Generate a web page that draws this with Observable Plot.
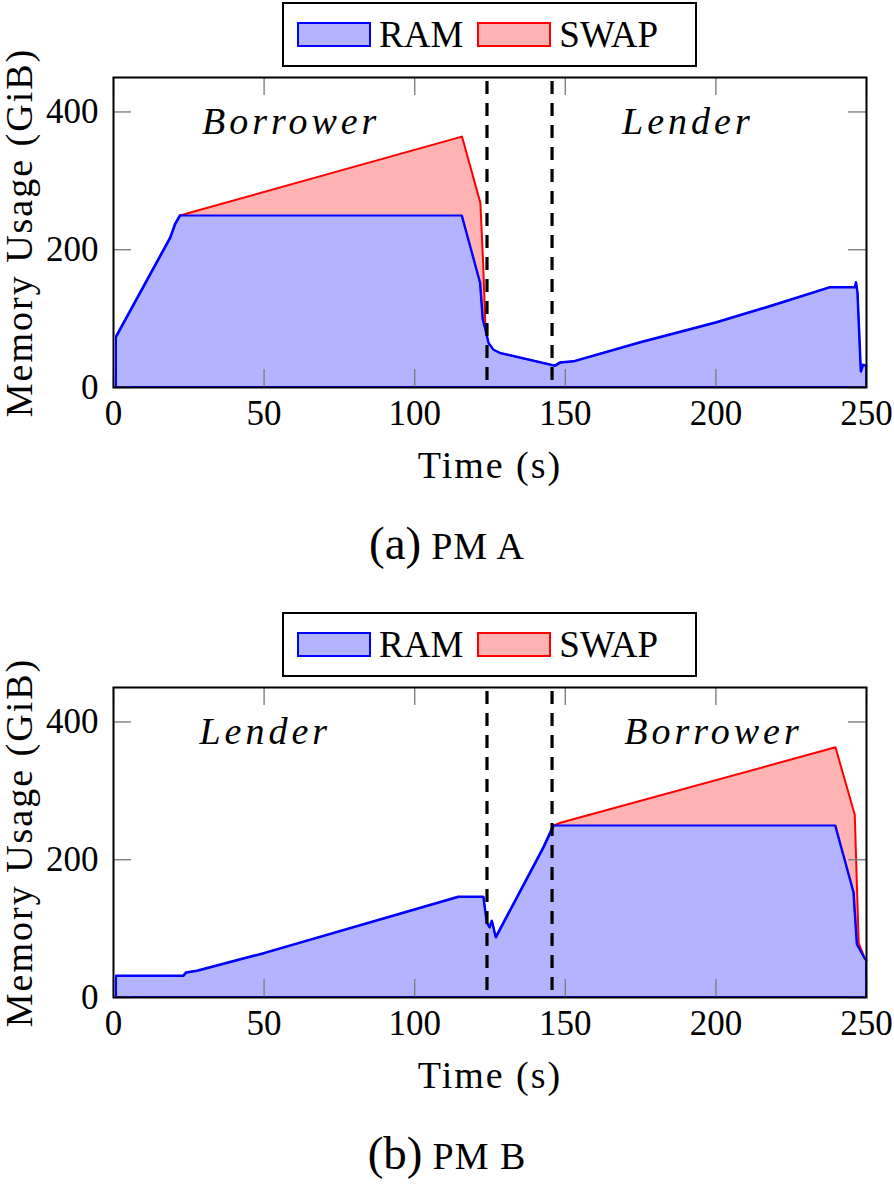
<!DOCTYPE html>
<html>
<head>
<meta charset="utf-8">
<script src="https://cdn.jsdelivr.net/npm/d3@7"></script>
<script src="https://cdn.jsdelivr.net/npm/@observablehq/plot@0.6"></script>
<style>
  html, body { margin: 0; padding: 0; background: #fff; }
  #page { position: relative; width: 894px; height: 1185px; overflow: hidden; font-family: 'Liberation Serif', 'Times New Roman', Times, Tinos, 'DejaVu Serif', 'Noto Serif', serif; color: #000; }
  .panel { position: absolute; left: 0; width: 894px; height: 610px; }
  .legend { position: absolute; left: 282px; top: 2px; width: 411px; height: 61px; border: 2px solid #000; display: flex; align-items: center; font-size: 37px; box-sizing: content-box; }
  .sw { display: inline-block; width: 70px; height: 21px; border: 2px solid; margin-left: 13px; margin-right: 8px; }
  .chart { position: absolute; left: 0; top: 69px; }
  .cap { position: absolute; left: 0; width: 894px; top: 516px; display: flex; justify-content: center; align-items: baseline; }
  .cap .tag { font-size: 47px; margin-right: 10px; }
  .cap .name { font-size: 38px; letter-spacing: 1px; }
</style>
</head>
<body>
<div id="page"></div>
<script>
// ---------------- data ----------------
// PM A
const timeA = [1, 18.9, 20.5, 22.2, 24.4, 115.7, 121.8, 122.7, 123.5, 124.6, 126.2, 128.4, 146.7, 148.4, 152.8, 175, 200, 219, 238, 246.3, 246.6, 247.1, 248.2, 248.9, 250];
const ramA  = [74, 217, 236.5, 249.6, 249.6, 249.6, 151.7, 98, 85, 64.3, 54.6, 49.8, 31.3, 36.1, 37.6, 65.2, 94, 119, 145.3, 145.3, 152.5, 137, 23, 32.7, 31.3];
const swapA = [0, 0, 0, 0, 2.9, 114.6, 116.3, 85, 0, 0, 0, 0, 0, 0, 0, 0, 0, 0, 0, 0, 0, 0, 0, 0, 0];
// PM B
const timeB = [1, 23.3, 24.2, 27.8, 50, 114.6, 122.9, 124.0, 124.9, 125.7, 127.0, 142.8, 146.2, 148.4, 239.7, 245.8, 246.1, 246.9, 247.4, 249.6, 250];
const ramB  = [31.3, 31.3, 36, 38.6, 64, 145.8, 145.8, 108.7, 101.4, 111, 87, 217.4, 249.7, 249.7, 249.7, 152, 130, 77, 73, 55.5, 54];
const swapB = [0, 0, 0, 0, 0, 0, 0, 0, 0, 0, 0, 0, 0, 3.9, 113.5, 118, 135.6, 74, 6, 0, 0];

const xDomain = [0, 250];
const yDomain = [0, 450];
const xTicks = [0, 50, 100, 150, 200, 250];
const yTicks = [0, 200, 400];
const phaseLines = [124, 145.6];

const phaseLabelsA = ["Borrower", "Lender"];
const phaseLabelsB = ["Lender", "Borrower"];
const phaseLabelXA = [59, 190.7];
const phaseLabelXB = [50.4, 199.2];
const phaseLabelY = [386, 386];

const legendLabels = ["RAM", "SWAP"];
const legendFills = ["#b3b3ff", "#ffb3b3"];
const legendStrokes = ["#0000ff", "#ff0000"];

const xLabel = "Time (s)";
const yLabel = "Memory Usage (GiB)";
const captionTags = ["(a)", "(b)"];
const captionNames = ["PM A", "PM B"];

// ---------------- drawing ----------------
const FONT = "'Liberation Serif', 'Times New Roman', Times, Tinos, 'DejaVu Serif', 'Noto Serif', serif";
const W = 894, ML = 113, MR = 28, MT = 8, FH = 310, MB = 112;
const FW = W - ML - MR;

function makePlot(times, ram, swap, labels, labelX) {
  const data = times.map((t, i) => ({t, ram: ram[i], swap: swap[i], total: ram[i] + swap[i]}));
  const swapLine = data.filter((d, i) => d.swap > 0 || (data[i - 1] && data[i - 1].swap > 0) || (data[i + 1] && data[i + 1].swap > 0));
  const ann = labels.map((s, i) => ({s, x: labelX[i], y: phaseLabelY[i]}));
  const tickStyle = {stroke: "#808080", strokeWidth: 1.4};
  const xMid = (xDomain[0] + xDomain[1]) / 2;
  const yMid = (yDomain[0] + yDomain[1]) / 2;
  const svg = Plot.plot({
    width: W, height: MT + FH + MB,
    marginLeft: ML, marginRight: MR, marginTop: MT, marginBottom: MB,
    x: {domain: xDomain, label: null},
    y: {domain: yDomain, label: null},
    style: {fontFamily: FONT, fontSize: "35px", background: "transparent", overflow: "visible", color: "#000"},
    marks: [
      Plot.areaY(data, {x: "t", y: "ram", fill: "#b3b3ff", stroke: "#0000ff", strokeWidth: 2}),
      Plot.areaY(data, {x: "t", y1: "ram", y2: "total", fill: "#ffb3b3"}),
      Plot.line(swapLine, {x: "t", y: "total", stroke: "#ff0000", strokeWidth: 2}),
      Plot.line(data, {x: "t", y: "ram", stroke: "#0000ff", strokeWidth: 2}),
      Plot.ruleX(xTicks, {x: d => d, ...tickStyle, insetTop: FH - 18}),
      Plot.ruleX(xTicks, {x: d => d, ...tickStyle, insetBottom: FH - 18}),
      Plot.ruleY(yTicks, {y: d => d, ...tickStyle, insetRight: FW - 18}),
      Plot.ruleY(yTicks, {y: d => d, ...tickStyle, insetLeft: FW - 18}),
      Plot.ruleX(phaseLines, {x: d => d, stroke: "#000", strokeWidth: 3.2, strokeDasharray: "13,9", insetTop: 4}),
      Plot.frame({stroke: "#000", strokeWidth: 2}),
      Plot.axisX(xTicks, {tickSize: 0, tickPadding: 13, fontSize: 35, label: null}),
      Plot.axisY(yTicks, {tickSize: 0, tickPadding: 15, fontSize: 35, label: null}),
      Plot.text(ann, {x: "x", y: "y", text: "s", fontStyle: "italic", fontSize: 38}),
      Plot.text([xLabel], {text: d => d, x: () => xMid, y: () => yDomain[0], dy: 78, fontSize: 38}),
      Plot.text([yLabel], {text: d => d, x: () => xDomain[0], y: () => yMid, dx: -94, rotate: -90, fontSize: 38})
    ]
  });
  // typographic spacing to approximate the math-italic / CM widths
  svg.querySelectorAll("text").forEach(t => {
    const s = t.textContent;
    if (labels.includes(s)) t.style.letterSpacing = "4px";
    else if (s === xLabel || s === yLabel) t.style.letterSpacing = "2px";
  });
  return svg;
}

const page = document.getElementById("page");
const panels = [
  [timeA, ramA, swapA, phaseLabelsA, phaseLabelXA],
  [timeB, ramB, swapB, phaseLabelsB, phaseLabelXB]
];
panels.forEach((p, k) => {
  const div = document.createElement("div");
  div.className = "panel";
  div.style.top = (k * 610) + "px";
  // legend
  const lg = document.createElement("div");
  lg.className = "legend";
  legendLabels.forEach((lab, i) => {
    const sw = document.createElement("span");
    sw.className = "sw";
    sw.style.background = legendFills[i];
    sw.style.borderColor = legendStrokes[i];
    if (i > 0) sw.style.marginLeft = "14px";
    const tx = document.createElement("span");
    tx.textContent = lab;
    lg.appendChild(sw); lg.appendChild(tx);
  });
  div.appendChild(lg);
  // chart
  const ch = document.createElement("div");
  ch.className = "chart";
  ch.appendChild(makePlot(...p));
  div.appendChild(ch);
  // caption
  const cap = document.createElement("div");
  cap.className = "cap";
  const t1 = document.createElement("span"); t1.className = "tag"; t1.textContent = captionTags[k];
  const t2 = document.createElement("span"); t2.className = "name"; t2.textContent = captionNames[k];
  cap.appendChild(t1); cap.appendChild(t2);
  div.appendChild(cap);
  page.appendChild(div);
});
</script>
</body>
</html>
